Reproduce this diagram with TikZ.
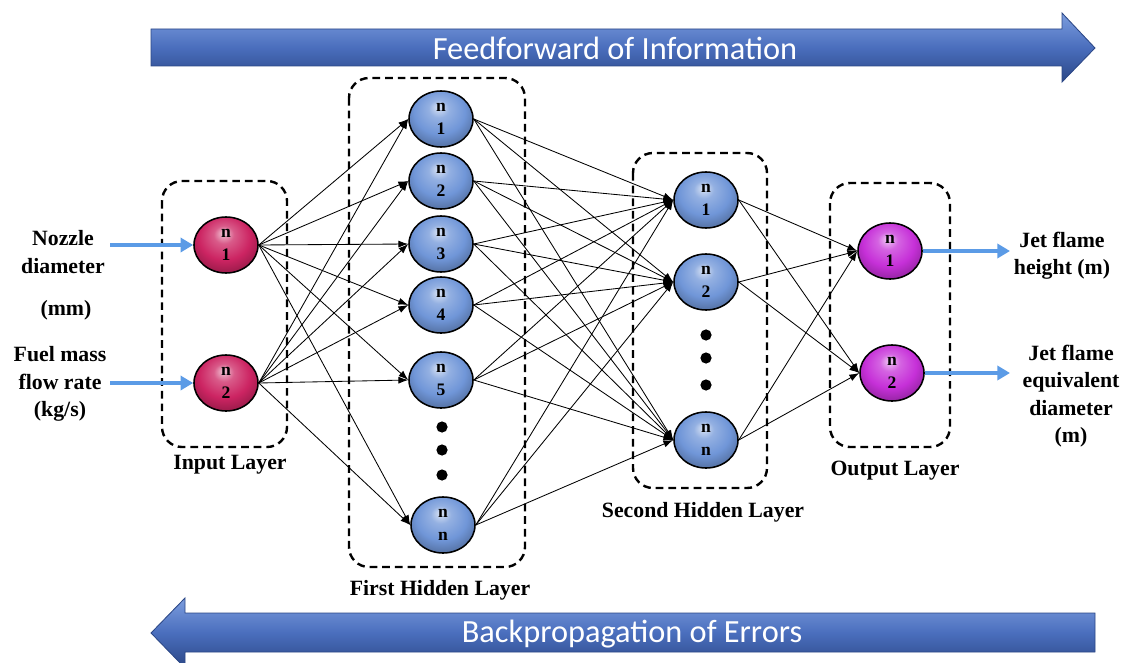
\documentclass[tikz,border=0pt]{standalone}
\usepackage{fontspec}
\setmainfont{Liberation Serif}
\newfontfamily\okyazi{Carlito}
\usepackage{tikz}
\usetikzlibrary{arrows.meta,shapes.geometric}
\definecolor{okMavi}{HTML}{4A6EBD}
\definecolor{okAcik}{HTML}{7C9DDE}
\definecolor{okKoyu}{HTML}{2B4786}
\definecolor{acikMavi}{HTML}{5B9BE6}
\definecolor{pembe}{HTML}{CC2462}
\definecolor{gizliMavi}{HTML}{7096D8}
\definecolor{mor}{HTML}{C630D8}
\colorlet{kurerenk}{gizliMavi}
\pgfdeclareradialshading[kurerenk]{kure}{\pgfqpoint{-2bp}{11bp}}{color(0bp)=(kurerenk!25!white); color(8bp)=(kurerenk!75!white); color(20bp)=(kurerenk); color(32bp)=(kurerenk!70!black); color(50bp)=(kurerenk!45!black)}
\begin{document}
\begin{tikzpicture}[x=0.025cm,y=-0.025cm,
 noron/.style={ellipse,draw,line width=1.1pt,minimum width=1.6cm,minimum height=1.4cm,inner sep=0pt,align=center,font=\fontsize{12.5}{16.5}\selectfont\bfseries},
 dolgu/.style={/utils/exec=\colorlet{kurerenk}{#1},shading=kure},
 kutu/.style={line width=1.7pt,rounded corners=0.5cm,dash pattern=on 5.5pt off 3.5pt},
 etiket/.style={font=\fontsize{15.5}{19.5}\selectfont\bfseries,align=center},
 bag/.style={-{Latex[length=7pt,width=5pt]},line width=0.6pt},
 girisok/.style={-{Triangle[length=9pt,width=10pt]},line width=2.6pt,acikMavi},
 buyukok/.style={top color=okAcik,bottom color=okKoyu,middle color=okMavi,draw=okKoyu,line width=0.6pt},
 okyazisi/.style={font=\okyazi\fontsize{23}{26}\selectfont,text=white}]
\useasboundingbox (0,0) rectangle (1123,663);
\draw[buyukok] (151,29) -- (1062,29) -- (1062,13) -- (1095,48) -- (1062,82) -- (1062,66) -- (151,66) -- cycle;
\node[okyazisi] (ileri) at (615,48) {Feedforward of Information};
\draw[buyukok] (1095,613) -- (185,613) -- (185,598) -- (151,633) -- (185,668) -- (185,652) -- (1095,652) -- cycle;
\node[okyazisi] (geri) at (632,634) {Backpropagation of Errors};
\draw[kutu] (162,181) rectangle (287,447);
\draw[kutu] (349,78) rectangle (525,567);
\draw[kutu] (633,153) rectangle (767,488);
\draw[kutu] (830,183) rectangle (950,447);
\node[noron,dolgu=pembe] (g1) at (226,245) {n\\1};
\node[noron,dolgu=pembe] (g2) at (226,383) {n\\2};
\foreach \i/\y in {1/119,2/181,3/244,4/305,5/380} \node[noron,dolgu=gizliMavi] (a\i) at (441,\y) {n\\\i};
\node[noron,dolgu=gizliMavi] (an) at (443,525) {n\\n};
\node[noron,dolgu=gizliMavi] (b1) at (706,200) {n\\1};
\node[noron,dolgu=gizliMavi] (b2) at (706,282) {n\\2};
\node[noron,dolgu=gizliMavi] (bn) at (706,440) {n\\n};
\node[noron,dolgu=mor] (c1) at (890,251) {n\\1};
\node[noron,dolgu=mor] (c2) at (892,373) {n\\2};
\foreach \s in {g1,g2} \foreach \t in {a1,a2,a3,a4,a5,an} \draw[bag] (\s.east) -- (\t.west);
\foreach \s in {a1,a2,a3,a4,a5,an} \foreach \t in {b1,b2,bn} \draw[bag] (\s.east) -- (\t.west);
\foreach \s in {b1,b2,bn} \foreach \t in {c1,c2} \draw[bag] (\s.east) -- (\t.west);
\foreach \y in {427,450,475} \fill (442,\y) circle[radius=0.14cm];
\foreach \y in {335,358,385} \fill (706,\y) circle[radius=0.14cm];
\node[etiket] (t1) at (63,252) {Nozzle\\diameter};
\node[etiket] (t2) at (66,310) {(mm)};
\node[etiket] (t3) at (60,384) {Fuel mass\\flow rate\\(kg/s)};
\coordinate (s1) at (110,245);
\coordinate (s2) at (110,383);
\draw[girisok] (s1) -- (g1.west);
\draw[girisok] (s2) -- (g2.west);
\coordinate (e1) at (1010,251);
\coordinate (e2) at (1010,373);
\draw[girisok] (c1.east) -- (e1);
\draw[girisok] (c2.east) -- (e2);
\node[etiket] (t4) at (1062,256) {Jet flame\\height (m)};
\node[etiket] (t5) at (1071,396) {Jet flame\\equivalent\\diameter\\(m)};
\node[etiket] (l1) at (230,465) {Input Layer};
\node[etiket] (l2) at (440,590) {First Hidden Layer};
\node[etiket] (l3) at (703,512) {Second Hidden Layer};
\node[etiket] (l4) at (895,471) {Output Layer};
\end{tikzpicture}
\end{document}
